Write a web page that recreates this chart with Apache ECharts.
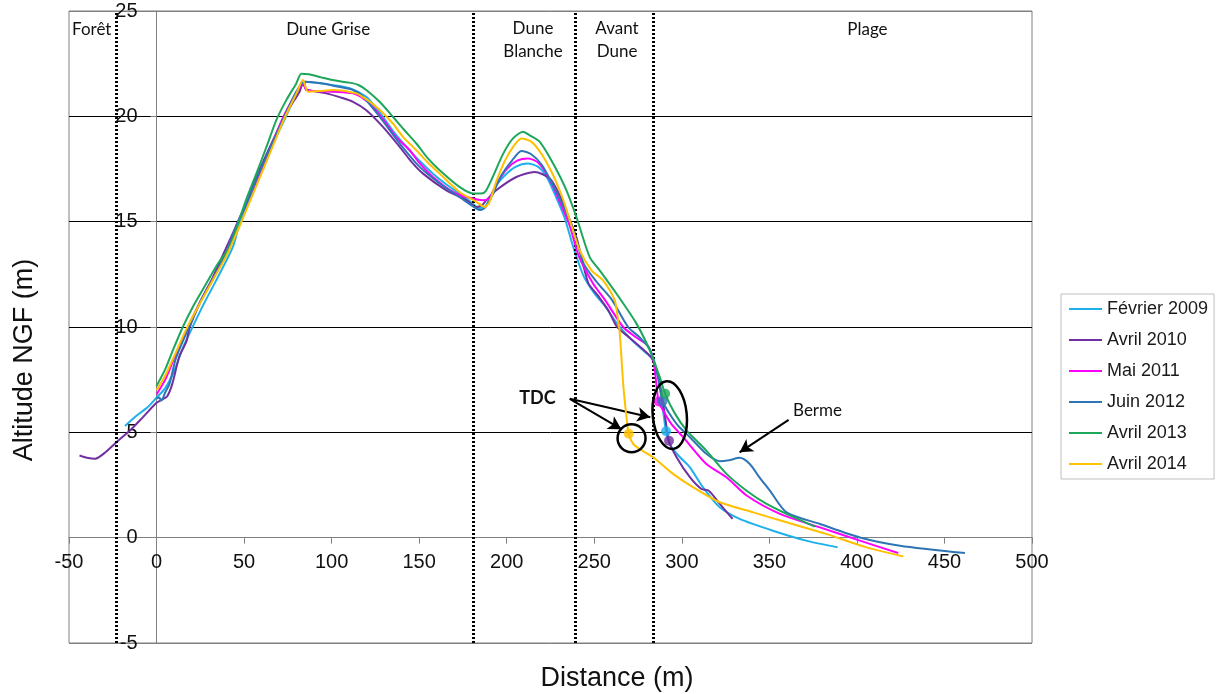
<!DOCTYPE html>
<html><head><meta charset="utf-8">
<script src="https://cdn.jsdelivr.net/npm/echarts@6/dist/echarts.min.js"></script>
<style>html,body{margin:0;padding:0;background:#fff}#c{width:1219px;height:694px}</style>
</head><body><div id="c"></div>
<script>
// ---- data ----
const seriesNames = ['Février 2009', 'Avril 2010', 'Mai 2011', 'Juin 2012', 'Avril 2013', 'Avril 2014'];
const seriesColors = ['#1DB1EC', '#7030A0', '#FF00FF', '#2E75B6', '#1DA75A', '#FFC000'];

const fev2009 = [[-18,5.3],[-12,5.75],[-5,6.2],[0,6.65],[5,7.1],[10,7.9],[15,9.0],[20,9.9],[27,11.1],[34,12.2],[43.6,13.8],[47.4,14.9],[52,15.8],[57,16.8],[66.5,18.7],[74,20.0],[80,21.1],[84.6,21.64],[90,21.6],[100.8,21.48],[110.3,21.33],[119.8,20.93],[124,20.55],[129.3,19.98],[136,19.2],[142.7,18.55],[150,17.9],[157.9,17.28],[165,16.8],[173,16.33],[180,15.9],[184,15.65],[188,15.75],[193,16.6],[199,17.2],[205,17.6],[212,17.76],[218,17.6],[223,17.1],[228,16.2],[233,15.2],[238,13.8],[244,12.4],[250,11.6],[256,11.0],[262.7,10.2],[270,9.5],[277,8.95],[283,8.5],[287,7.4],[289,6.2],[291,5.05],[293,4.45],[298,3.9],[304.6,3.34],[312,2.4],[321.7,1.44],[333,0.89],[352,0.33],[371,-0.14],[389,-0.46]];

const avr2010 = [[-44,3.9],[-39,3.78],[-35,3.75],[-30,4.0],[-22,4.6],[-15,5.1],[-8,5.7],[0,6.4],[3,6.55],[6,6.7],[9,7.3],[13,8.6],[17,9.3],[19,10.0],[25,11.2],[32.2,12.37],[40,13.8],[45.5,14.8],[51,15.8],[57,17.1],[65,18.6],[74,20.14],[81.7,21.17],[83.6,21.56],[85.5,21.28],[97,21.09],[105,20.9],[112.2,20.69],[119.8,20.29],[129.3,19.5],[138.9,18.55],[145,17.9],[152.2,17.28],[165.5,16.49],[177,16.02],[182.7,15.7],[186,15.8],[188.4,16.02],[194,16.49],[205.5,17.12],[216,17.36],[224.6,17.05],[230,16.3],[235,15.3],[240,14.2],[246.5,12.1],[252,11.5],[258,10.8],[263,10.0],[270,9.5],[277,9.0],[283,8.5],[287,7.5],[290,6.0],[292.7,4.58],[297,3.82],[304.6,2.87],[311.2,2.31],[315.4,2.23],[321.7,1.6],[329,0.89]];

const mai2011 = [[0,6.8],[5,7.5],[10,8.5],[18,10.0],[25,11.2],[33,12.4],[40,13.6],[46,14.9],[52,16.0],[58,17.1],[65,18.5],[72,19.9],[79,21.0],[83,21.5],[84.5,21.6],[85.5,21.25],[100.8,21.17],[112.2,21.09],[118,20.85],[123.6,20.45],[131.2,19.66],[137,19.0],[144.6,18.39],[150,17.8],[157.9,17.12],[169.3,16.41],[177,16.17],[186.5,16.02],[190,16.1],[195,16.9],[200,17.5],[206,17.9],[212.2,18.0],[218,17.8],[224,17.1],[230,16.0],[236,14.8],[241,13.4],[249.3,12.06],[256,11.3],[266.5,10.0],[274,9.5],[280.8,9.1],[284,8.3],[286.7,6.46],[289.3,6.04],[294,5.4],[300.8,4.77],[314,3.5],[325.5,2.87],[337,2.0],[356,1.13],[378.9,0.49],[401.7,-0.14],[423.6,-0.73]];

const juin2012 = [[0,6.6],[1.5,6.65],[2.7,6.51],[5,6.9],[7.4,7.3],[11,8.5],[18,9.9],[25,11.2],[33,12.4],[40,13.6],[46,14.9],[52,16.0],[58,17.2],[66,18.7],[73,20.0],[80,21.2],[84.6,21.64],[95,21.56],[104,21.4],[112.2,21.25],[118,20.93],[127.4,19.98],[138.9,18.71],[150.3,17.6],[161.7,16.81],[173,16.17],[182.7,15.62],[185,15.55],[188,15.7],[192,16.3],[197,17.2],[203,17.9],[208.4,18.36],[214,18.2],[220,17.7],[226,16.8],[232,15.8],[238,14.6],[244,13.0],[252.2,12.06],[260,11.3],[269.3,10.0],[276,9.5],[282,8.9],[286,7.8],[289,6.48],[293,5.88],[298,5.3],[304.6,4.77],[314,3.98],[321.7,3.63],[327,3.68],[333,3.79],[338.8,3.5],[344,2.9],[350.3,2.23],[359.8,1.2],[378.9,0.65],[401.7,0.01],[424.6,-0.38],[461.7,-0.73]];

const avr2013 = [[0,7.2],[5,8.0],[9.3,8.89],[15,10.0],[21,11.0],[28.4,12.06],[35,13.0],[41.7,13.8],[46.5,14.9],[51,16.0],[57,17.28],[63,18.6],[68.4,19.82],[74.1,20.77],[79.8,21.56],[82.7,22.02],[87,22.0],[94,21.85],[100.6,21.72],[110,21.6],[115,21.5],[119.8,21.25],[127.4,20.69],[135,19.98],[141,19.4],[148.4,18.71],[155,18.0],[161.7,17.44],[173,16.65],[180.8,16.34],[185.5,16.34],[188,16.45],[192,17.12],[198,18.23],[203.6,18.95],[209.3,19.27],[213.1,19.1],[218.9,18.79],[226.5,17.76],[234.1,16.49],[239.8,15.22],[247.4,13.32],[253.1,12.69],[262.7,11.58],[274.1,10.16],[281.7,8.89],[287.4,7.62],[290.5,6.83],[296,5.9],[302.7,5.09],[314,4.13],[325.5,3.03],[337,2.23],[348.4,1.6],[359.8,1.13],[376,0.52]];

const avr2014 = [[0,7.0],[5,7.7],[10,8.6],[17,9.9],[24,11.0],[32,12.2],[40,13.4],[47,14.7],[52,15.7],[58,16.9],[65,18.3],[73,19.9],[80,21.1],[83.6,21.72],[86.5,21.17],[93,21.2],[100.8,21.25],[114,21.09],[119,20.85],[125.5,20.45],[135,19.66],[141,19.0],[148.4,18.39],[155,17.8],[161.7,17.28],[173,16.41],[182.7,15.94],[187.4,15.7],[190,15.9],[194,16.9],[199,17.9],[204,18.6],[208.4,18.95],[214,18.8],[220,18.2],[226,17.3],[232,16.1],[236,15.07],[241.7,13.64],[248.4,12.69],[255,12.21],[261.7,11.26],[263.6,10.31],[264.6,9.68],[266.5,7.31],[268.4,5.72],[269.7,4.93],[272.2,4.45],[276,4.2],[283.6,3.82],[295,3.03],[306.5,2.39],[321.7,1.68],[340.8,1.2],[359.8,0.73],[382.7,0.17],[405.5,-0.46],[426.5,-0.89]];

const profiles = [fev2009, avr2010, mai2011, juin2012, avr2013, avr2014];
// TDC points (one per survey, same order)
const tdcPoints = [[291,5.05],[292.7,4.6],[286.7,6.46],[289,6.48],[290.5,6.83],[269.7,4.93]];
// zone boundaries (m)
const zoneBounds = [-23, 181, 239.2, 283.6];
const zoneNames = ['Forêt', 'Dune Grise', 'Dune\nBlanche', 'Avant\nDune', 'Plage'];
const zoneLabelX = [-37, 98, 215, 263, 406];
const xMin = -50, xMax = 500, xStep = 50;
const yMin = -5, yMax = 25, yStep = 5;

// ---- chart ----
const chart = echarts.init(document.getElementById('c'));
const FONT = '"Liberation Sans", Arial, sans-serif';
const gridLeft = 69, gridRight = 187, gridTop = 11, gridBottom = 51;
const plotW = 1219 - gridLeft - gridRight, plotH = 694 - gridTop - gridBottom;
// axes cross at zero: offsets computed from the axis ranges
const yAxisOffset = -plotW * (0 - xMin) / (xMax - xMin);
const xAxisOffset = -plotH * (0 - yMin) / (yMax - yMin);

const series = profiles.map((d, i) => ({
  name: seriesNames[i], type: 'line', data: d, smooth: 0.25,
  showSymbol: false, symbol: 'none', color: seriesColors[i],
  lineStyle: { width: 2, color: seriesColors[i] }, z: 3 + i, silent: true
}));

series.push({
  name: 'TDC', type: 'scatter', symbolSize: 10, z: 20, silent: true,
  data: tdcPoints.map((p, i) => ({ value: p, itemStyle: { color: seriesColors[i] } }))
});

series.push({
  name: 'marks', type: 'line', data: [], z: 15, silent: true,
  markLine: {
    silent: true, symbol: ['none', 'none'], label: { show: false },
    lineStyle: { color: '#000', width: 3, type: [2, 2] },
    data: zoneBounds.map(v => ({ xAxis: v }))
  }
});

series.push({
  name: 'arrows', type: 'line', data: [], z: 16, silent: true,
  markLine: {
    silent: true, symbol: ['none', 'arrow'], symbolSize: [11, 13], label: { show: false },
    lineStyle: { color: '#000', width: 2, type: 'solid' },
    data: [
      [{ coord: [236, 6.59] }, { coord: [265.5, 5.15] }],
      [{ coord: [236, 6.59] }, { coord: [282, 5.72] }],
      [{ coord: [361, 5.59] }, { coord: [333, 4.05] }]
    ]
  }
});

const option = {
  animation: false,
  backgroundColor: '#fff',
  grid: { left: gridLeft, right: gridRight, top: gridTop, bottom: gridBottom, show: true, borderColor: '#808080', borderWidth: 1, containLabel: false },
  legend: {
    data: seriesNames, orient: 'vertical', left: 1061, top: 294,
    icon: 'rect', itemWidth: 33, itemHeight: 2, itemGap: 13,
    padding: [6, 6, 6, 8], borderColor: '#bfbfbf', borderWidth: 1,
    textStyle: { fontFamily: FONT, fontSize: 18, color: '#1a1a1a', lineHeight: 18 }
  },
  xAxis: {
    type: 'value', min: xMin, max: xMax, interval: xStep, offset: xAxisOffset,
    axisLine: { onZero: false, lineStyle: { color: '#808080', width: 1 } },
    axisTick: { show: true, length: 6, lineStyle: { color: '#808080' } },
    axisLabel: { fontFamily: FONT, fontSize: 20, color: '#111', margin: 15 },
    splitLine: { show: false }
  },
  yAxis: {
    type: 'value', min: yMin, max: yMax, interval: yStep, offset: yAxisOffset,
    axisLine: { onZero: false, lineStyle: { color: '#808080', width: 1 } },
    axisTick: { show: true, length: 6, lineStyle: { color: '#808080' } },
    axisLabel: { fontFamily: FONT, fontSize: 20, color: '#111', margin: 19 },
    splitLine: { show: true, lineStyle: { color: ['#808080', '#808080', '#000', '#000', '#000', '#000', '#808080'], width: 1 } }
  },
  series: series
};
chart.setOption(option);

const px = (x, y) => chart.convertToPixel({ gridIndex: 0 }, [x, y]);
const zoneY = 24.1;
const graphics = [];
zoneNames.forEach((n, i) => {
  const p = px(zoneLabelX[i], n.indexOf('\n') >= 0 ? 23.63 : zoneY);
  graphics.push({ type: 'text', x: p[0], y: p[1], z: 30, silent: true,
    style: { text: n, fontFamily: 'Lato, "Open Sans", sans-serif', fontSize: 17, fill: '#111', align: 'center', verticalAlign: 'middle', lineHeight: 22.5 } });
});
const tdc = px(217.5, 6.63);
graphics.push({ type: 'text', x: tdc[0], y: tdc[1], z: 30, silent: true,
  style: { text: 'TDC', fontFamily: 'Lato, sans-serif', fontWeight: 'bold', fontSize: 18, fill: '#111', align: 'center', verticalAlign: 'middle' } });
const berme = px(377.5, 6.03);
graphics.push({ type: 'text', x: berme[0], y: berme[1], z: 30, silent: true,
  style: { text: 'Berme', fontFamily: 'Lato, sans-serif', fontSize: 17, fill: '#111', align: 'center', verticalAlign: 'middle' } });
const c1 = px(271.3, 4.72);
graphics.push({ type: 'circle', x: c1[0], y: c1[1], z: 30, silent: true, shape: { cx: 0, cy: 0, r: 14 },
  style: { fill: 'none', stroke: '#000', lineWidth: 2.5 } });
const c2 = px(293.1, 5.82);
graphics.push({ type: 'ellipse', x: c2[0], y: c2[1], rotation: 0.1, z: 30, silent: true, shape: { cx: 0, cy: 0, rx: 17, ry: 34 },
  style: { fill: 'none', stroke: '#000', lineWidth: 2.5 } });
graphics.push({ type: 'text', x: 25, y: 360, rotation: Math.PI / 2, z: 30, silent: true,
  style: { text: 'Altitude NGF (m)', fontFamily: FONT, fontSize: 27, fill: '#111', align: 'center', verticalAlign: 'middle' } });
graphics.push({ type: 'text', x: 617, y: 679, z: 30, silent: true,
  style: { text: 'Distance (m)', fontFamily: FONT, fontSize: 27, fill: '#111', align: 'center', verticalAlign: 'middle' } });
chart.setOption({ graphic: graphics });
</script></body></html>
